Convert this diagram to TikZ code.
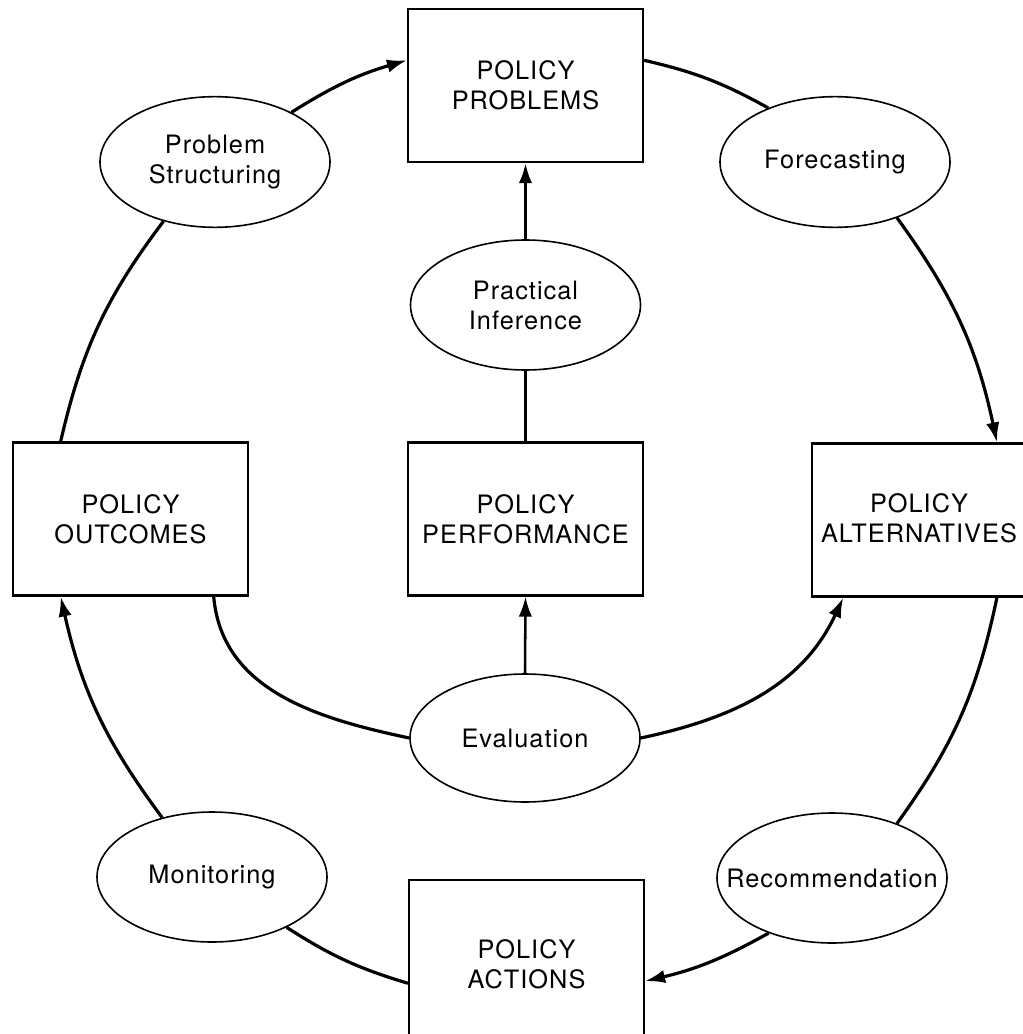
\documentclass[tikz,border=0pt]{standalone}
\usepackage{fontspec}
\setmainfont{TeX Gyre Heros}[LetterSpace=4]
\usetikzlibrary{arrows.meta,shapes.geometric}
\newcommand\lblfont{\fontsize{19pt}{22.5pt}\selectfont}
\begin{document}
\begin{tikzpicture}[x=0.75pt,y=0.75pt,
  boxnode/.style={draw, line width=1.6pt, minimum width=176.25pt, minimum height=114.75pt, align=center, inner sep=0pt, font=\lblfont},
  procnode/.style={draw, ellipse, line width=1.2pt, minimum width=172.5pt, minimum height=98pt, inner sep=0pt},
  lbltext/.style={align=center, inner sep=0pt, font=\lblfont},
  arc/.style={line width=2.4pt},
  tip/.style={-{Latex[length=15pt,width=10pt]}}]
\useasboundingbox (0,0) rectangle (1023,-1034);
\clip (0,0) rectangle (1023,-1034);
% boxes
\node[boxnode] (prob) at (525.5,-85.5) {POLICY\\PROBLEMS};
\node[boxnode] (out) at (130.5,-519) {POLICY\\OUTCOMES};
\node[boxnode] (perf) at (525.5,-519) {POLICY\\PERFORMANCE};
\node[boxnode] (alt) at (929.5,-520) {};
\node[lbltext] (alttext) at (919,-518) {POLICY\\ALTERNATIVES};
\node[boxnode, minimum height=126.75pt] (act) at (526.5,-964.5) {POLICY\\ACTIONS};
% ellipses
\node[procnode] (ps) at (215,-162) {};
\node[lbltext] (pstext) at (ps) {Problem\\Structuring};
\node[procnode] (fc) at (835,-162) {};
\node[lbltext] (fctext) at (fc) {Forecasting};
\node[procnode, minimum height=97.5pt] (pi) at (525.5,-305) {};
\node[lbltext] (pitext) at (pi) {Practical\\Inference};
\node[procnode, minimum height=96pt] (ev) at (525,-738) {};
\node[lbltext] (evtext) at (ev) {Evaluation};
\node[procnode, minimum height=97.5pt] (mo) at (212,-877) {};
\node[lbltext] (motext) at (mo) {Monitoring};
\node[procnode, minimum height=97.5pt] (rec) at (832,-878) {};
\node[lbltext] (rectext) at (rec) {Recommendation};
% outer cycle
\draw[arc, tip] (ps.33.9) to[bend left=8] (prob.168.7);
\draw[arc] (prob.12.7) to[bend left=8] (fc.141.5);
\draw[arc, tip] (fc.-42) to[bend left=12] (alt.49.6);
\draw[arc] (alt.-49.6) to[bend left=12] (rec.40.7);
\draw[arc, tip] (rec.-139.8) to[bend left=8] (act.-8.5);
\draw[arc] (act.-171.5) to[bend left=8] (mo.-34.7);
\draw[arc, tip] (mo.130.9) to[bend left=12] (out.-132.5);
\draw[arc] (out.132.5) to[bend left=12] (ps.-131.5);
% inner
\draw[arc, tip] (pi.north) -- (prob.south);
\draw[line width=1.8pt] (perf.north) -- (pi.south);
\draw[line width=1.9pt, tip] (ev.north) -- (perf.south);
\draw[arc] (out.-43) to[out=-85,in=168] (ev.west);
\draw[arc, tip] (ev.east) to[out=12,in=-115] (alt.-138.3);
\end{tikzpicture}
\end{document}
